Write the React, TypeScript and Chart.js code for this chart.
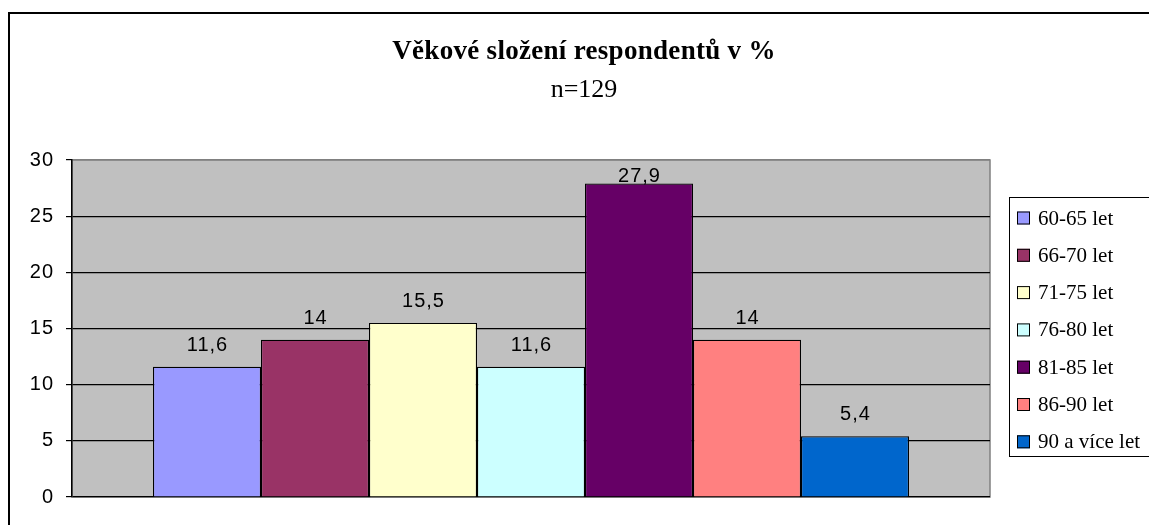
import React, { useEffect, useRef } from "react";
import { Chart, registerables } from "chart.js";

Chart.register(...registerables);

const titleText = "Věkové složení respondentů v %";
const subtitleText = "n=129";
const categories = ["60-65 let", "66-70 let", "71-75 let", "76-80 let", "81-85 let", "86-90 let", "90 a více let"];
const values = [11.6, 14, 15.5, 11.6, 27.9, 14, 5.4];
const colors = ["#9999FF", "#993366", "#FFFFCC", "#CCFFFF", "#660066", "#FF8080", "#0066CC"];
const yMin = 0;
const yMax = 30;
const yStep = 5;

const SANS = "'Liberation Sans', Arial, sans-serif";
const SERIF = "'Liberation Serif', 'Times New Roman', serif";

export default function App() {
  const ref = useRef<HTMLCanvasElement | null>(null);

  useEffect(() => {
    const canvas = ref.current;
    if (!canvas) return;

    const decor = {
      id: "decor",
      beforeDraw(chart: any) {
        const { ctx, chartArea: a } = chart;
        ctx.save();
        ctx.fillStyle = "#FFFFFF";
        ctx.fillRect(0, 0, chart.width, chart.height);
        ctx.strokeStyle = "#000000";
        ctx.lineWidth = 2;
        ctx.strokeRect(9, 13, 1300, 700);
        ctx.fillStyle = "#C0C0C0";
        ctx.fillRect(a.left, a.top, a.right - a.left, a.bottom - a.top);
        ctx.strokeStyle = "#808080";
        ctx.lineWidth = 1.5;
        ctx.strokeRect(a.left, a.top, a.right - a.left, a.bottom - a.top);
        ctx.restore();
        ctx.letterSpacing = "1px";
      },
      afterDatasetsDraw(chart: any) {
        const { ctx, chartArea: a } = chart;
        ctx.save();
        ctx.font = `20px ${SANS}`;
        ctx.letterSpacing = "1px";
        ctx.fillStyle = "#000000";
        ctx.textAlign = "center";
        ctx.textBaseline = "alphabetic";
        chart.data.datasets.forEach((ds: any, i: number) => {
          const el = chart.getDatasetMeta(i).data[0];
          if (!el) return;
          const v = ds.data[0];
          const yb = Math.max(el.y - 16, a.top + 22);
          ctx.fillText(String(v).replace(".", ","), el.x + 0.5, yb);
        });
        ctx.restore();
      },
      afterDraw(chart: any) {
        const { ctx } = chart;
        ctx.save();
        ctx.fillStyle = "#000000";
        ctx.textAlign = "center";
        ctx.textBaseline = "alphabetic";
        ctx.font = `bold 27px ${SERIF}`;
        ctx.letterSpacing = "0.3px";
        ctx.fillText(titleText, 584, 59);
        ctx.font = `26px ${SERIF}`;
        ctx.letterSpacing = "0px";
        ctx.fillText(subtitleText, 584, 97);

        // legend
        ctx.fillStyle = "#FFFFFF";
        ctx.fillRect(1009, 197, 160, 260);
        ctx.strokeStyle = "#000000";
        ctx.lineWidth = 1;
        ctx.strokeRect(1009.5, 197.5, 160, 259);
        ctx.font = `21px ${SERIF}`;
        ctx.textAlign = "left";
        ctx.textBaseline = "middle";
        chart.data.datasets.forEach((ds: any, i: number) => {
          const cy = 218 + i * 37.3;
          ctx.fillStyle = ds.backgroundColor;
          ctx.fillRect(1017, cy - 6.5, 13, 13);
          ctx.strokeStyle = "#000000";
          ctx.strokeRect(1017.5, cy - 6, 12, 12);
          ctx.fillStyle = "#000000";
          ctx.fillText(ds.label, 1038, cy + 1);
        });
        ctx.restore();
      },
    };

    const chart = new Chart(canvas, {
      type: "bar",
      data: {
        labels: [""],
        datasets: categories.map((c, i) => ({
          label: c,
          data: [values[i]],
          backgroundColor: colors[i],
          borderColor: "#000000",
          borderWidth: 1.2,
          barPercentage: 1,
          categoryPercentage: 756 / 918,
        })),
      },
      options: {
        responsive: false,
        animation: false,
        devicePixelRatio: 1,
        layout: { padding: { left: 0, top: 160, right: 159, bottom: 28 } },
        plugins: {
          legend: { display: false },
          title: { display: false },
          tooltip: { enabled: false },
        },
        scales: {
          x: { display: false },
          y: {
            min: yMin,
            max: yMax,
            afterFit(scale: any) {
              scale.width = 72;
            },
            ticks: {
              stepSize: yStep,
              color: "#000000",
              font: { family: SANS, size: 20 },
              padding: 12,
            },
            grid: {
              color: (c: any) => (c.tick && (c.tick.value === yMax) ? "#808080" : "#000000"),
              tickColor: "#000000",
              lineWidth: 1.2,
              tickLength: 6,
            },
            border: { color: "#000000", width: 1.5 },
          },
        },
      },
      plugins: [decor],
    });

    return () => chart.destroy();
  }, []);

  return (
    <div style={{ position: "absolute", left: 0, top: 0, width: 1149, height: 525 }}>
      <canvas ref={ref} width={1149} height={525} style={{ display: "block" }} />
    </div>
  );
}
